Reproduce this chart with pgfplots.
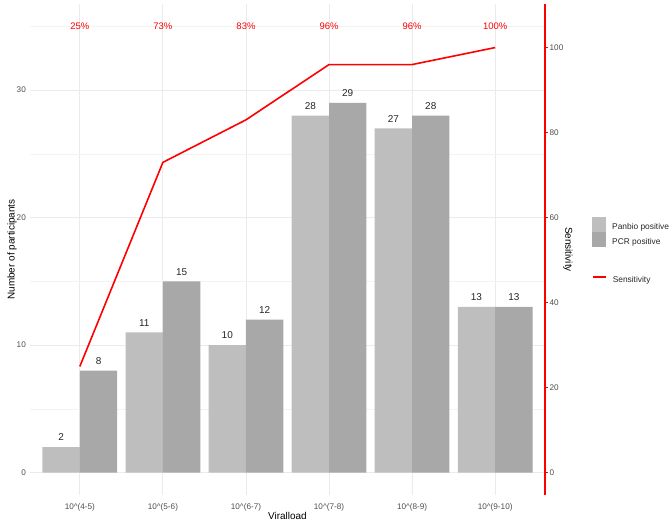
\documentclass[border=0pt]{standalone}
\usepackage{pgfplots}
\pgfplotsset{compat=1.18}
\usepackage{fontspec}
\setmainfont{Liberation Sans}
\definecolor{panbio}{HTML}{BEBEBE}
\definecolor{pcr}{HTML}{A8A8A8}
\definecolor{ticktxt}{HTML}{4D4D4D}
\definecolor{gridmaj}{HTML}{EBEBEB}
\definecolor{gridmin}{HTML}{F3F3F3}
\definecolor{sens}{HTML}{FF0000}
\pgfplotsset{
  boxkey/.style={legend image code/.code={\fill[##1] (0bp,-4.5bp) rectangle (14bp,10.5bp);}},
  linekey/.style={legend image code/.code={\draw[##1] (0bp,3bp) -- (13bp,3bp);}},
}

\begin{document}
\begin{tikzpicture}
\useasboundingbox (-30bp,-27bp) rectangle (642bp,495bp);
% left axis: counts
\begin{axis}[scale only axis,width=515bp,height=491bp,
  xmin=0.4,xmax=6.6,ymin=-1.75,ymax=36.75,
  ybar=0pt,bar width=0.45,
  xtick={1,2,3,4,5,6},
  xticklabels={10\textasciicircum(4-5),10\textasciicircum(5-6),10\textasciicircum(6-7),
    10\textasciicircum(7-8),10\textasciicircum(8-9),10\textasciicircum(9-10)},
  ytick={0,10,20,30},minor ytick={5,15,25,35},
  xmajorgrids,ymajorgrids,yminorgrids,
  major grid style={gridmaj,line width=0.9bp},
  minor grid style={gridmin,line width=0.5bp},
  axis line style={draw=none},tick style={draw=none},
  /pgf/number format/assume math mode=true,
  ticklabel style={font=\fontsize{8.2}{10}\selectfont,text=ticktxt,inner sep=0pt},
  xticklabel style={anchor=north,yshift=-4bp},
  yticklabel style={anchor=east,xshift=-4bp},
  xlabel={Viralload},ylabel={Number of participants},
  label style={font=\fontsize{10}{12}\selectfont},
  every axis x label/.style={at={(rel axis cs:0.5,0)},yshift=-21bp,anchor=center},
  every axis y label/.style={at={(rel axis cs:0,0.5)},xshift=-18bp,rotate=90,anchor=center},
  nodes near coords,
  every node near coord/.append style={font=\fontsize{10}{12}\selectfont,text=black!85,
    inner sep=0pt,yshift=6bp},
  legend style={at={(rel axis cs:1.0913,0.5662)},anchor=north west,draw=none,fill=none,
    inner sep=0pt,row sep=0pt,font=\fontsize{8.4}{10}\selectfont,text=black!85,
    nodes={inner sep=0pt},/tikz/every odd column/.append style={column sep=6bp}},
  legend cell align=left]
\addplot[fill=panbio,draw=none,boxkey]
  coordinates {(1,2)(2,11)(3,10)(4,28)(5,27)(6,13)};
\addlegendentry{Panbio positive}
\addplot[fill=pcr,draw=none,boxkey]
  coordinates {(1,8)(2,15)(3,12)(4,29)(5,28)(6,13)};
\addlegendentry{PCR positive}
\end{axis}
% right axis: sensitivity
\begin{axis}[scale only axis,width=515bp,height=491bp,
  xmin=0.4,xmax=6.6,ymin=-5.25,ymax=110.25,
  axis line style={draw=none},xtick=\empty,
  ytick pos=right,yticklabel pos=right,
  ytick={0,20,40,60,80,100},
  ytick style={color=sens,line width=1.1bp},tick align=outside,major tick length=3bp,
  /pgf/number format/assume math mode=true,
  yticklabel style={font=\fontsize{8.2}{10}\selectfont,text=ticktxt,inner sep=0pt,
    anchor=west,xshift=1.5bp},
  ylabel={Sensitivity},
  every axis y label/.style={at={(rel axis cs:1,0.5)},xshift=23bp,rotate=-90,anchor=center,
    font=\fontsize{10}{12}\selectfont},
  legend style={at={(rel axis cs:1.0913,0.4379)},anchor=west,draw=none,fill=none,
    inner sep=0pt,font=\fontsize{8.4}{10}\selectfont,text=black!85,
    nodes={inner sep=0pt},/tikz/every odd column/.append style={column sep=6bp}},
  legend cell align=left,clip=false]
\draw[draw=sens,line width=1.2bp] (rel axis cs:1,0) -- (rel axis cs:1,1);
\addplot[sens,line width=1.6bp,mark=none,linekey]
  coordinates {(1,25)(2,73)(3,83)(4,96)(5,96)(6,100)};
\addlegendentry{Sensitivity}
\addplot[draw=none,mark=none,forget plot,point meta=explicit symbolic,nodes near coords,
  every node near coord/.append style={anchor=center,text=sens,
    font=\fontsize{9.5}{11}\selectfont}]
  coordinates {(1,105)[25\%] (2,105)[73\%] (3,105)[83\%] (4,105)[96\%] (5,105)[96\%] (6,105)[100\%]};
\end{axis}
\end{tikzpicture}
\end{document}
